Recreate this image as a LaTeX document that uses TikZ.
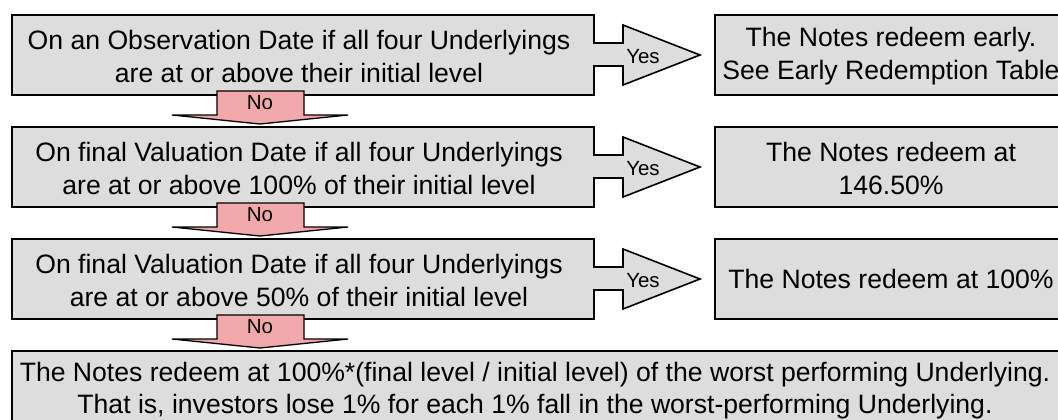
\documentclass[tikz,border=0pt]{standalone}
\usepackage{fontspec}
\setmainfont{Liberation Sans}
\definecolor{boxgray}{RGB}{221,221,221}
\definecolor{nopink}{RGB}{242,169,173}
\begin{document}
\begin{tikzpicture}[x=1pt,y=-1pt,
  grayshape/.style={fill=boxgray,draw=black,line width=1.6pt,line join=miter},
  noarrow/.style={fill=nopink,draw=black,line width=1.3pt,line join=miter},
  txt/.style={align=center,font=\fontsize{26.6}{33}\selectfont,inner sep=0pt},
  smalltxt/.style={font=\fontsize{20.5}{24}\selectfont,inner sep=0pt}]
\useasboundingbox (0,0) rectangle (1058,420);
\clip (0,0) rectangle (1058,420);
\foreach \i/\o in {1/0,2/112,3/224}{
  % condition box merged with Yes arrow
  \draw[grayshape] (12,15+\o) -- (594,15+\o) -- (594,43+\o) -- (623,43+\o)
     -- (623,25+\o) -- (700,55+\o) -- (623,85+\o) -- (623,66+\o)
     -- (594,66+\o) -- (594,95+\o) -- (12,95+\o) -- cycle;
  % result box
  \draw[grayshape] (715,15+\o) rectangle (1070,95+\o);
}
\draw[grayshape] (12,351) rectangle (1065,440);
\foreach \i/\o in {1/0,2/112,3/224}{
  \draw[noarrow] (217,91+\o) -- (304,91+\o) -- (304,115+\o) -- (348,115+\o)
     -- (260,124+\o) -- (172,115+\o) -- (217,115+\o) -- cycle;
  \node[smalltxt] (no\i) at (260,103+\o) {No};
  \node[smalltxt] (yes\i) at (643,57+\o) {Yes};
}
\node[txt] (c1) at (299,56) {On an Observation Date if all four Underlyings\\are at or above their initial level};
\node[txt] (c2) at (299,168) {On final Valuation Date if all four Underlyings\\are at or above 100\% of their initial level};
\node[txt] (c3) at (299,280) {On final Valuation Date if all four Underlyings\\are at or above 50\% of their initial level};
\node[txt] (r1) at (891,56) {The Notes redeem early.\\See Early Redemption Table};
\node[txt] (r2) at (891,168) {The Notes redeem at\\146.50\%};
\node[txt] (r3) at (891,279) {The Notes redeem at 100\%};
\node[txt,font=\fontsize{26.6}{32}\selectfont] (final) at (535,390.5) {The Notes redeem at 100\%*(final level / initial level) of the worst performing Underlying.\\That is, investors lose 1\% for each 1\% fall in the worst-performing Underlying.};
\end{tikzpicture}
\end{document}
